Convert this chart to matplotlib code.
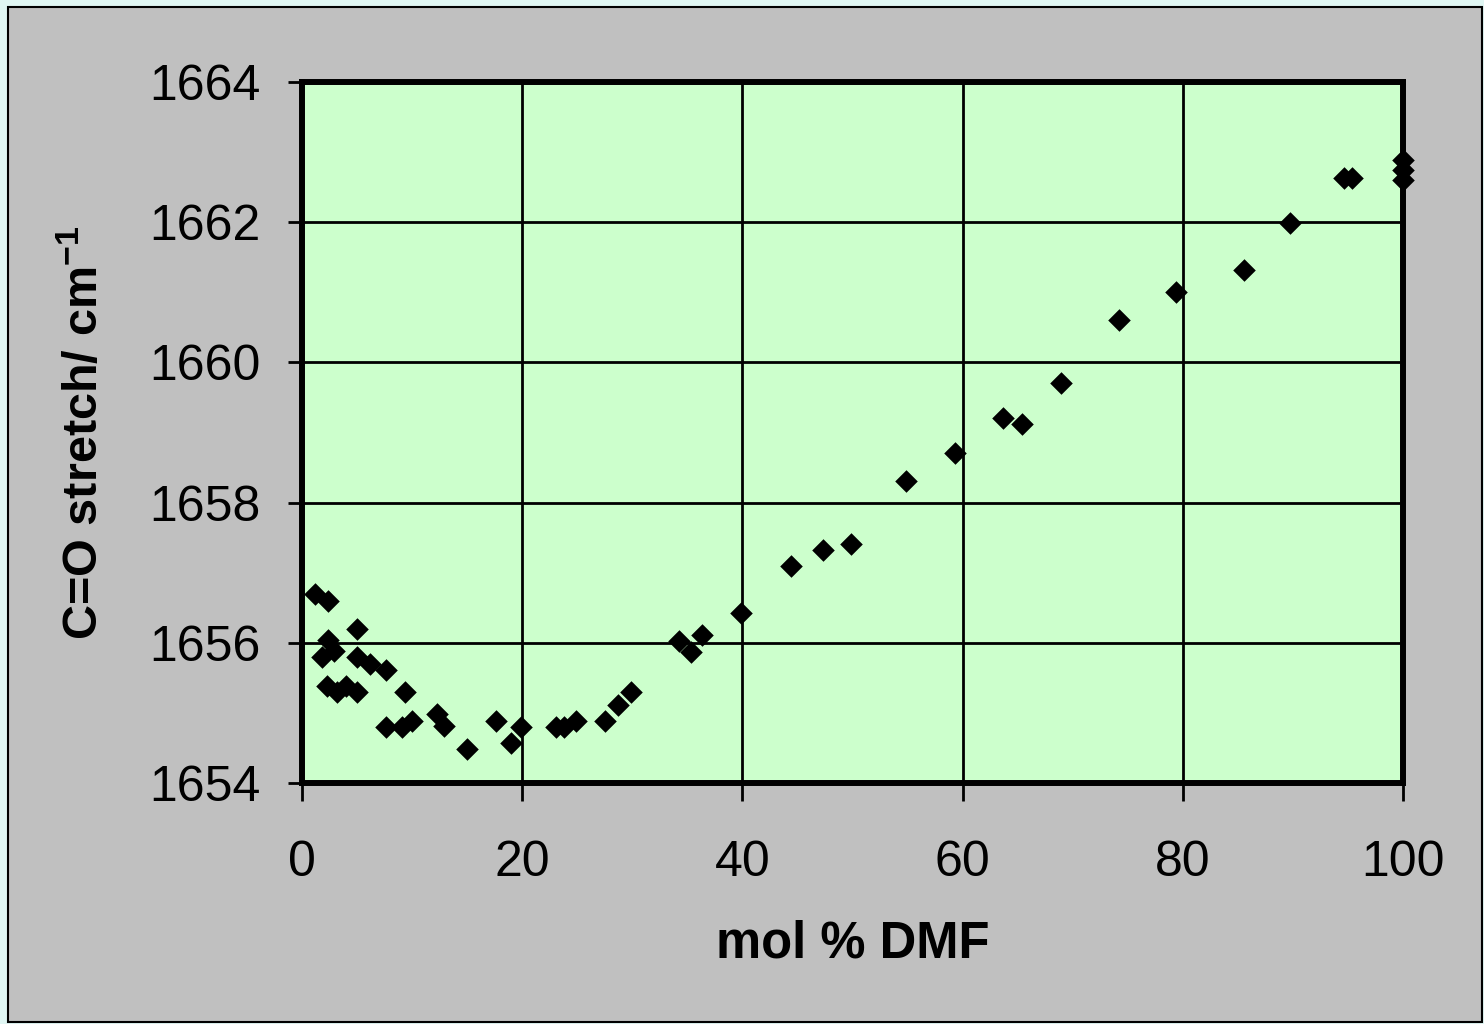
import matplotlib
matplotlib.use("Agg")
import matplotlib.pyplot as plt
from matplotlib.patches import Rectangle

plt.rcParams['font.family'] = ['Liberation Sans', 'DejaVu Sans']
plt.rcParams['mathtext.fontset'] = 'custom'
plt.rcParams['mathtext.rm'] = 'Liberation Sans:bold'
plt.rcParams['mathtext.it'] = 'Liberation Sans:bold'
plt.rcParams['mathtext.bf'] = 'Liberation Sans:bold'

# Data: mol % DMF vs C=O stretch (cm^-1)
mol_pct_dmf = [1.2, 2.4, 5.0, 2.4, 1.8, 2.9, 5.0, 6.2, 7.6, 2.3, 3.2, 4.0,
               5.0, 9.4, 7.6, 9.1, 10.0, 12.3, 12.9, 15.0, 17.6, 19.0, 19.9,
               23.1, 23.8, 24.9, 27.5, 28.7, 29.9, 34.2, 35.3, 36.3, 39.9,
               44.4, 47.3, 49.9, 54.9, 59.3, 63.7, 65.4, 68.9, 74.2, 79.4,
               85.6, 89.7, 94.6, 95.4, 100.0, 100.0, 100.0]
co_stretch = [1656.70, 1656.60, 1656.20, 1656.04, 1655.80, 1655.88, 1655.80,
              1655.70, 1655.61, 1655.38, 1655.30, 1655.38, 1655.30, 1655.30,
              1654.80, 1654.80, 1654.88, 1654.98, 1654.81, 1654.49, 1654.88,
              1654.57, 1654.80, 1654.80, 1654.80, 1654.88, 1654.88, 1655.11,
              1655.30, 1656.03, 1655.87, 1656.11, 1656.43, 1657.10, 1657.32,
              1657.41, 1658.31, 1658.71, 1659.21, 1659.12, 1659.71, 1660.60,
              1661.00, 1661.32, 1661.99, 1662.63, 1662.63, 1662.89, 1662.74,
              1662.60]

x_ticks = [0, 20, 40, 60, 80, 100]
y_ticks = [1654, 1656, 1658, 1660, 1662, 1664]
x_label = 'mol % DMF'
y_label = r'C=O stretch/ cm$^{-1}$'

fig = plt.figure(figsize=(14.84, 10.24), dpi=100)
fig.patch.set_facecolor('#e0f6f3')
frame = Rectangle((8 / 1484, 1 - 1022 / 1024), 1474 / 1484, 1015 / 1024,
                  transform=fig.transFigure, facecolor='#c0c0c0',
                  edgecolor='black', linewidth=1.5, zorder=-10)
fig.add_artist(frame)

ax = fig.add_axes([302 / 1484, 1 - 783 / 1024, 1101 / 1484, 701 / 1024])
ax.set_zorder(1)
ax.set_facecolor('#ccffcc')
ax.set_xlim(0, 100)
ax.set_ylim(1654, 1664)
ax.set_xticks(x_ticks)
ax.set_yticks(y_ticks)
ax.grid(True, color='black', linewidth=2.0)
ax.set_axisbelow(True)
for s in ax.spines.values():
    s.set_linewidth(4.3)
    s.set_color('black')
ax.tick_params(axis='y', direction='out', length=10, width=2.0, pad=20,
               labelsize=36, left=True, right=False)
ax.tick_params(axis='x', direction='out', length=13, width=2.0, pad=28,
               labelsize=36, bottom=True, top=False)

ax.scatter(mol_pct_dmf, co_stretch, marker='D', s=11.5 ** 2, color='black',
           linewidths=0, clip_on=False, zorder=5)

ax.set_xlabel(x_label, fontsize=36.5, fontweight='bold', va='center')
ax.set_ylabel(y_label, fontsize=35, fontweight='bold', va='center')
ax.xaxis.set_label_coords(0.5, (783 - 944) / 701)
ax.yaxis.set_label_coords((85 - 302) / 1101, 0.5)

fig.savefig('out.png', dpi=100, facecolor=fig.get_facecolor())
